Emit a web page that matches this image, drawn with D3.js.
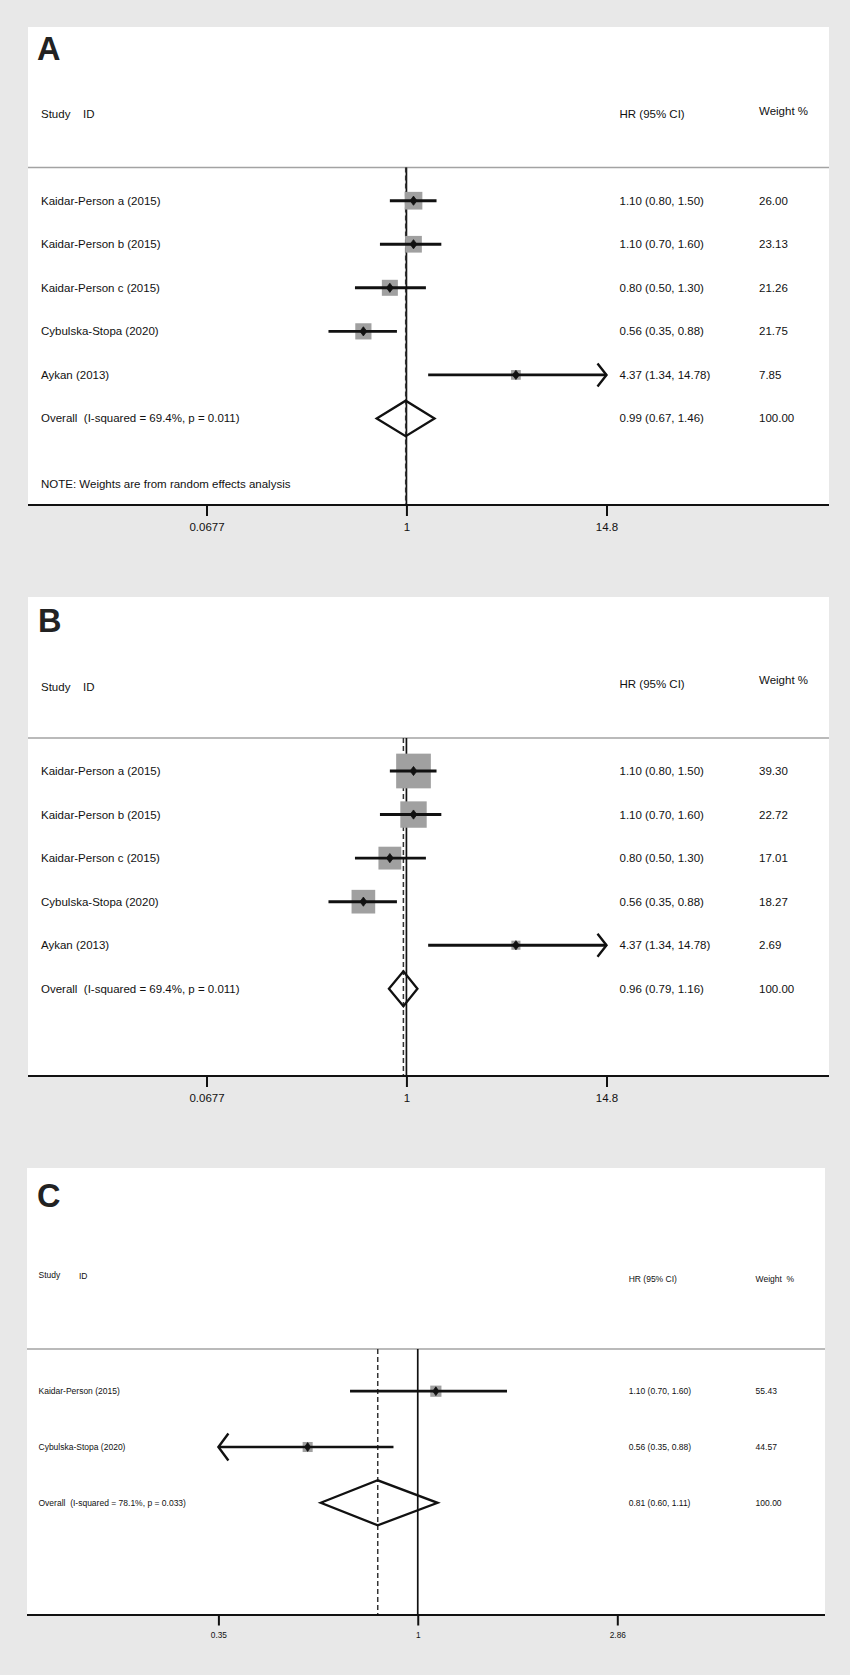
<!DOCTYPE html>
<html>
<head>
<meta charset="utf-8">
<script src="https://cdn.jsdelivr.net/npm/d3@7"></script>
<style>
  body { margin: 0; background: #e8e8e8; }
  svg { display: block; font-family: "Liberation Sans", Arial, sans-serif; }
</style>
</head>
<body>
<div id="chart"></div>
<script>
// ---- data ----
const studyAB = ["Kaidar-Person a (2015)", "Kaidar-Person b (2015)", "Kaidar-Person c (2015)", "Cybulska-Stopa (2020)", "Aykan (2013)"];
const hrAB = [1.10, 1.10, 0.80, 0.56, 4.37];
const lowAB = [0.80, 0.70, 0.50, 0.35, 1.34];
const highAB = [1.50, 1.60, 1.30, 0.88, 14.78];
const weightA = [26.00, 23.13, 21.26, 21.75, 7.85];
const weightB = [39.30, 22.72, 17.01, 18.27, 2.69];
const overallA = [0.99, 0.67, 1.46];
const overallB = [0.96, 0.79, 1.16];
const hetAB = "Overall  (I-squared = 69.4%, p = 0.011)";
const ticksAB = [0.0677, 1, 14.8];
const tickLabelsAB = ["0.0677", "1", "14.8"];

const studyC = ["Kaidar-Person (2015)", "Cybulska-Stopa (2020)"];
const hrC = [1.10, 0.56];
const lowC = [0.70, 0.35];
const highC = [1.60, 0.88];
const weightC = [55.43, 44.57];
const overallC = [0.81, 0.60, 1.11];
const hetC = "Overall  (I-squared = 78.1%, p = 0.033)";
const ticksC = [0.35, 1, 2.86];
const tickLabelsC = ["0.35", "1", "2.86"];

const noteA = "NOTE: Weights are from random effects analysis";

const W = 850, H = 1675;
const svg = d3.select("#chart").append("svg")
    .attr("width", W)
    .attr("height", H);

svg.append("rect").attr("width", W).attr("height", H).attr("fill", "#e8e8e8");

const fmt = d3.format(".2f");

function drawPanel(p) {
    const g = svg.append("g");
    const ink = "#111";

    g.append("rect")
        .attr("x", p.left).attr("y", p.top)
        .attr("width", p.right - p.left).attr("height", p.axisY - p.top)
        .attr("fill", "#fff");

    g.append("text")
        .attr("x", p.letterX).attr("y", p.letterY)
        .attr("font-size", p.letterSize).attr("font-weight", "bold")
        .attr("fill", "#222")
        .text(p.letter);

    const x = d3.scaleLog()
        .domain([p.ticks[0], p.ticks[p.ticks.length - 1]])
        .range(p.xRange);
    const n = p.names.length;
    const y = d3.scaleLinear().domain([0, n]).range([p.row0, p.row0 + n * p.step]);
    const size = d3.scaleSqrt().domain([0, d3.max(p.weight)]).range([0, p.boxMax]);
    const [lo0, hi0] = x.domain();
    // an interval reaching the axis edge (within a pixel) gets an arrow
    const hitsRight = d => x(Math.min(d.hi, hi0)) >= p.xRange[1] - 1;
    const hitsLeft = d => x(Math.max(d.lo, lo0)) <= p.xRange[0] + 1;

    // header
    g.append("text").attr("x", p.studyX).attr("y", p.headY[0])
        .attr("font-size", p.fs).attr("fill", ink).text("Study");
    g.append("text").attr("x", p.idX).attr("y", p.headY[0] + (p.idDy || 0))
        .attr("font-size", p.fs).attr("fill", ink).text("ID");
    g.append("text").attr("x", p.hrX).attr("y", p.headY[1])
        .attr("font-size", p.fs).attr("fill", ink).text("HR (95% CI)");
    g.append("text").attr("x", p.wX).attr("y", p.headY[2])
        .attr("font-size", p.fs).attr("fill", ink)
        .style("white-space", "pre").text(p.weightHead);

    g.append("line")
        .attr("x1", p.left).attr("x2", p.right)
        .attr("y1", p.ruleY).attr("y2", p.ruleY)
        .attr("stroke", "#a3a3a3").attr("stroke-width", 1.6);

    // reference lines
    g.append("line")
        .attr("x1", x(1)).attr("x2", x(1))
        .attr("y1", p.ruleY).attr("y2", p.axisY)
        .attr("stroke", ink).attr("stroke-width", 1.7);
    g.append("line")
        .attr("x1", x(p.overall[0])).attr("x2", x(p.overall[0]))
        .attr("y1", p.ruleY).attr("y2", p.axisY)
        .attr("stroke", "#333").attr("stroke-width", 1.5)
        .attr("stroke-dasharray", "5,3");

    const rows = d3.range(n).map(i => ({
        i: i, name: p.names[i], hr: p.hr[i], lo: p.lo[i], hi: p.hi[i], w: p.weight[i]
    }));

    // weight boxes
    g.selectAll(".box").data(rows).enter().append("rect")
        .attr("x", d => x(d.hr) - size(d.w) / 2)
        .attr("y", d => y(d.i) - size(d.w) / 2)
        .attr("width", d => size(d.w))
        .attr("height", d => size(d.w))
        .attr("fill", "#a0a0a0");

    // confidence intervals
    g.selectAll(".ci").data(rows).enter().append("line")
        .attr("x1", d => x(Math.max(d.lo, lo0)))
        .attr("x2", d => x(Math.min(d.hi, hi0)))
        .attr("y1", d => y(d.i)).attr("y2", d => y(d.i))
        .attr("stroke", ink).attr("stroke-width", p.ciW);

    // arrows for intervals running off the axis
    const ah = p.arrow;
    g.selectAll(".arrR").data(rows.filter(hitsRight)).enter().append("path")
        .attr("d", d => {
            const tx = p.xRange[1], ty = y(d.i);
            return `M${tx - ah[0]},${ty - ah[1]}L${tx},${ty}L${tx - ah[0]},${ty + ah[1]}`;
        })
        .attr("fill", "none").attr("stroke", ink).attr("stroke-width", 2.4);
    g.selectAll(".arrL").data(rows.filter(hitsLeft)).enter().append("path")
        .attr("d", d => {
            const tx = p.xRange[0], ty = y(d.i);
            return `M${tx + ah[0]},${ty - ah[1]}L${tx},${ty}L${tx + ah[0]},${ty + ah[1]}`;
        })
        .attr("fill", "none").attr("stroke", ink).attr("stroke-width", 2.4);

    // point markers
    g.selectAll(".pt").data(rows).enter().append("path")
        .attr("d", d => {
            const cx = x(d.hr), cy = y(d.i);
            return `M${cx},${cy - p.mark[1]}L${cx + p.mark[0]},${cy}L${cx},${cy + p.mark[1]}L${cx - p.mark[0]},${cy}Z`;
        })
        .attr("fill", ink).attr("stroke", ink).attr("stroke-width", 0.8)
        .attr("stroke-linejoin", "round");

    // row labels
    g.selectAll(".name").data(rows).enter().append("text")
        .attr("x", p.studyX).attr("y", d => y(d.i) + p.textDy)
        .attr("font-size", p.fs).attr("fill", ink)
        .text(d => d.name);
    g.selectAll(".est").data(rows).enter().append("text")
        .attr("x", p.hrX).attr("y", d => y(d.i) + p.textDy)
        .attr("font-size", p.fs).attr("fill", ink)
        .text(d => `${fmt(d.hr)} (${fmt(d.lo)}, ${fmt(d.hi)})`);
    g.selectAll(".wt").data(rows).enter().append("text")
        .attr("x", p.wX).attr("y", d => y(d.i) + p.textDy)
        .attr("font-size", p.fs).attr("fill", ink)
        .text(d => fmt(d.w));

    // overall
    const oy = y(n);
    const [oe, ol, oh] = p.overall;
    g.append("path")
        .attr("d", `M${x(ol)},${oy}L${x(oe)},${oy - p.diaH}L${x(oh)},${oy}L${x(oe)},${oy + p.diaH}Z`)
        .attr("fill", "none").attr("stroke", ink).attr("stroke-width", 2.3)
        .attr("stroke-linejoin", "miter");
    g.append("text").attr("x", p.studyX).attr("y", oy + p.textDy)
        .attr("font-size", p.fs).attr("fill", ink)
        .style("white-space", "pre").text(p.het);
    g.append("text").attr("x", p.hrX).attr("y", oy + p.textDy)
        .attr("font-size", p.fs).attr("fill", ink)
        .text(`${fmt(oe)} (${fmt(ol)}, ${fmt(oh)})`);
    g.append("text").attr("x", p.wX).attr("y", oy + p.textDy)
        .attr("font-size", p.fs).attr("fill", ink)
        .text("100.00");

    if (p.note) {
        g.append("text").attr("x", p.studyX).attr("y", p.noteY)
            .attr("font-size", p.fs).attr("fill", ink).text(p.note);
    }

    // axis
    const axis = g.append("g")
        .attr("transform", `translate(0,${p.axisY})`)
        .call(d3.axisBottom(x)
            .tickValues(p.ticks)
            .tickFormat((d, i) => p.tickLabels[i])
            .tickSize(p.tickLen)
            .tickPadding(p.tickPad));
    axis.select(".domain").remove();
    axis.selectAll(".tick line").attr("stroke", ink).attr("stroke-width", 2);
    axis.selectAll(".tick text").attr("font-size", p.tickFs).attr("fill", ink)
        .attr("font-family", "Liberation Sans, Arial, sans-serif");
    g.append("line")
        .attr("x1", p.left).attr("x2", p.right)
        .attr("y1", p.axisY).attr("y2", p.axisY)
        .attr("stroke", ink).attr("stroke-width", 2.2);
}

drawPanel({
    letter: "A", letterX: 37, letterY: 59.5, letterSize: 32.5,
    left: 28, right: 829, top: 27, axisY: 505,
    xRange: [206.5, 606.5], ticks: ticksAB, tickLabels: tickLabelsAB,
    names: studyAB, hr: hrAB, lo: lowAB, hi: highAB, weight: weightA,
    overall: overallA, het: hetAB, note: noteA, noteY: 487.5,
    studyX: 41, idX: 83, hrX: 619.5, wX: 759, weightHead: "Weight %",
    headY: [117.5, 117.5, 115], ruleY: 167.5,
    row0: 200.7, step: 43.55, textDy: 4,
    fs: 11.5, boxMax: 17.7, diaH: 17.8, mark: [3.4, 4.6], arrow: [9, 11.5],
    ciW: 2.9, tickLen: 11, tickPad: 7, tickFs: 11.5
});

drawPanel({
    letter: "B", letterX: 38, letterY: 632, letterSize: 32.5,
    left: 28, right: 829, top: 597, axisY: 1076,
    xRange: [206.5, 606.5], ticks: ticksAB, tickLabels: tickLabelsAB,
    names: studyAB, hr: hrAB, lo: lowAB, hi: highAB, weight: weightB,
    overall: overallB, het: hetAB, note: null,
    studyX: 41, idX: 83, hrX: 619.5, wX: 759, weightHead: "Weight %",
    headY: [691, 688, 683.5], ruleY: 738,
    row0: 771, step: 43.56, textDy: 4,
    fs: 11.5, boxMax: 34.7, diaH: 17.5, mark: [3.4, 4.6], arrow: [9, 11.5],
    ciW: 2.9, tickLen: 11, tickPad: 7, tickFs: 11.5
});

drawPanel({
    letter: "C", letterX: 37, letterY: 1207, letterSize: 32.5,
    left: 27, right: 825, top: 1168, axisY: 1615,
    xRange: [218.4, 617.3], ticks: ticksC, tickLabels: tickLabelsC,
    names: studyC, hr: hrC, lo: lowC, hi: highC, weight: weightC,
    overall: overallC, het: hetC, note: null,
    studyX: 38.5, idX: 79, idDy: 1, hrX: 628.7, wX: 755.6, weightHead: "Weight  %",
    headY: [1278, 1282, 1282], ruleY: 1349,
    row0: 1391.2, step: 55.8, textDy: 3,
    fs: 8.5, boxMax: 11.2, diaH: 22.5, mark: [3, 4.4], arrow: [10, 13.5],
    ciW: 2.7, tickLen: 10.5, tickPad: 6.5, tickFs: 8.3
});
</script>
</body>
</html>
